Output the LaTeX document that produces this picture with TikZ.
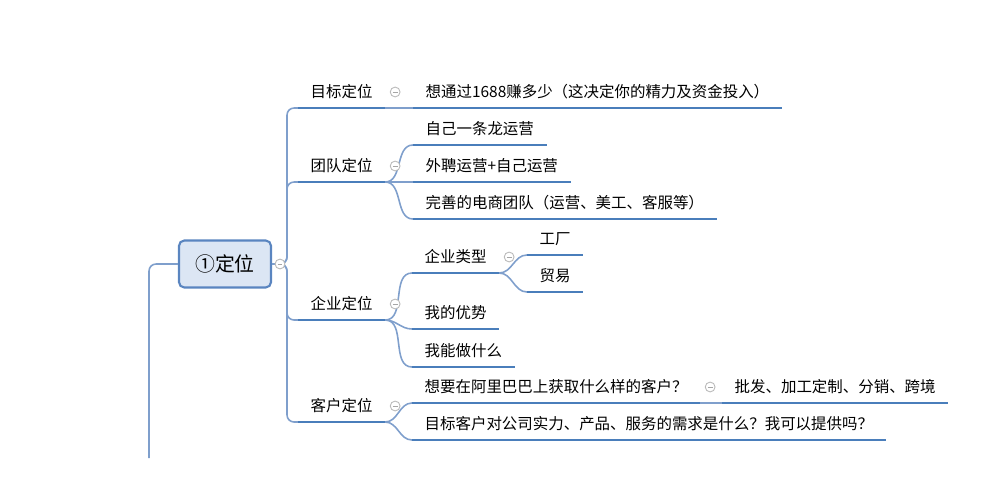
\documentclass[tikz,border=0pt]{standalone}
\usepackage{fontspec}
\setmainfont{Noto Sans CJK SC}
\usepackage{tikz}

\definecolor{lineblue}{HTML}{4A7EBB}
\definecolor{linkblue}{HTML}{7F9FCC}
\definecolor{rootfill}{HTML}{DCE6F4}
\definecolor{rootdraw}{HTML}{5A85C0}

\tikzset{
	topic/.style={anchor=south west, inner xsep=7pt, inner ysep=4pt, text depth=1.5pt,
		font=\fontsize{8.8}{10}\selectfont},
	uline/.style={draw=lineblue, line width=1.7pt},
	conn/.style={draw=linkblue, line width=0.9pt},
	fold/.style={shape=circle, draw=gray!55, fill=white, line width=0.5pt, minimum size=5.6pt, inner sep=0pt,
		path picture={\draw[gray!70, line width=0.5pt] ([xshift=-1.4pt]path picture bounding box.center) -- ([xshift=1.4pt]path picture bounding box.center);}},
}

\begin{document}
\begin{tikzpicture}[x=0.02cm, y=-0.02cm]
	
	\useasboundingbox (0,0) rectangle (1000,500);
	
	\node[draw=rootdraw, fill=rootfill, line width=1.2pt, rounded corners=3pt,
		minimum width=1.84cm, minimum height=0.94cm, font=\fontsize{11.3}{13}\selectfont] (root) at (225,264) {①定位};
	\coordinate (trunk) at (287,264);
	\coordinate (lend) at (149,458);
	
	\node[topic] (goal) at (298,108) {目标定位};
	\node[topic] (team) at (298,182) {团队定位};
	\node[topic] (firm) at (298,320) {企业定位};
	\node[topic] (cust) at (298,422) {客户定位};
	
	\node[topic] (goal1) at (413,108) {想通过1688赚多少（这决定你的精力及资金投入）};
	\node[topic] (team1) at (413,145) {自己一条龙运营};
	\node[topic] (team2) at (413,182) {外聘运营+自己运营};
	\node[topic] (team3) at (413,219) {完善的电商团队（运营、美工、客服等）};
	\node[topic] (firm1) at (412,273) {企业类型};
	\node[topic] (firm2) at (412,329) {我的优势};
	\node[topic] (firm3) at (412,367) {我能做什么};
	\node[topic] (type1) at (527,255) {工厂};
	\node[topic] (type2) at (527,292) {贸易};
	\node[topic] (cust1) at (412,403) {想要在阿里巴巴上获取什么样的客户？};
	\node[topic] (cust2) at (412,440) {目标客户对公司实力、产品、服务的需求是什么？我可以提供吗？};
	\node[topic] (kind) at (722,403) {批发、加工定制、分销、跨境};
	
	% connectors
	\draw[conn, rounded corners=4pt] (root.west) -| (lend);
	\foreach \b in {goal,team,firm,cust}
		\draw[conn, rounded corners=4pt] (root.east) -- (trunk) |- (\b.south west);
	\foreach \a/\b in {goal/goal1, team/team1, team/team2, team/team3, firm/firm1, firm/firm2, firm/firm3,
		firm1/type1, firm1/type2, cust/cust1, cust/cust2, cust1/kind}
		\draw[conn] (\a.south east) to[out=0, in=180] (\b.south west);
	
	% underlines
	\foreach \n in {goal,team,firm,cust,goal1,team1,team2,team3,firm1,firm2,firm3,type1,type2,cust1,cust2,kind}
		\draw[uline] (\n.south west) -- (\n.south east);
	
	% fold marks
	\node[fold] (fold-root) at (280,264) {};
	\foreach \p in {goal,team,firm,cust,firm1,cust1}
		\node[fold] (fold-\p) at ([shift={(10,-16)}]\p.south east) {};
	
\end{tikzpicture}
\end{document}
